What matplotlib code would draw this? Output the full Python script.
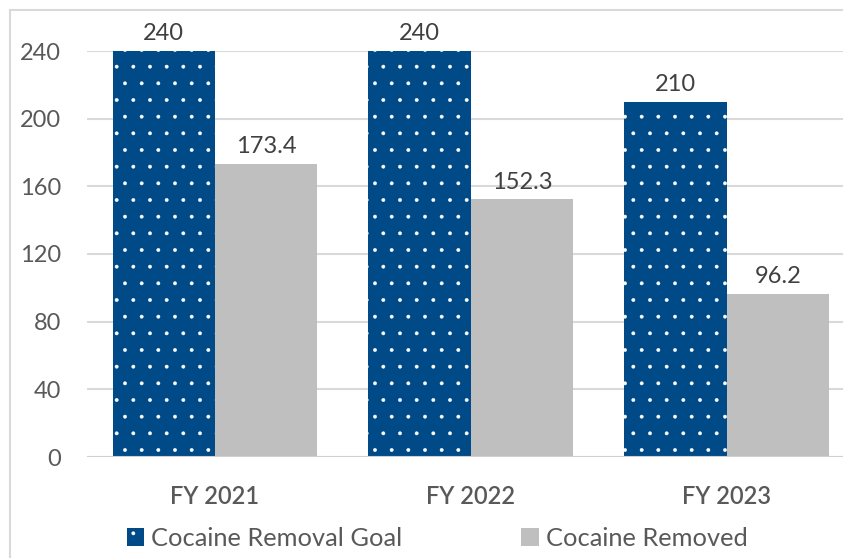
import matplotlib
matplotlib.use('Agg')
import matplotlib.pyplot as plt
from matplotlib.patches import Rectangle, Patch
import numpy as np

# --- datos ---
years = ['FY 2021', 'FY 2022', 'FY 2023']
goal = [240, 240, 210]
removed = [173.4, 152.3, 96.2]
series_names = ['Cocaine Removal Goal', 'Cocaine Removed']
yticks = [0, 40, 80, 120, 160, 200, 240]

BLUE = '#004B87'
GRAY = '#BFBFBF'
TXT = '#595959'

plt.rcParams['font.family'] = ['Lato', 'DejaVu Sans']
plt.rcParams['hatch.color'] = 'white'
plt.rcParams['hatch.linewidth'] = 0.3

fig = plt.figure(figsize=(8.43, 5.58), dpi=100)
ax = fig.add_axes([87 / 843, 101 / 558, 767.5 / 843, 406 / 558])

x = np.arange(len(years))
w = 0.4
b1 = ax.bar(x - w / 2, goal, w, color=BLUE, hatch='.', edgecolor='white', linewidth=0, zorder=3)
b2 = ax.bar(x + w / 2, removed, w, color=GRAY, linewidth=0, zorder=3)

for bars, vals in ((b1, goal), (b2, removed)):
    for r, v in zip(bars, vals):
        ax.text(r.get_x() + r.get_width() / 2, v + 4, f'{v:g}', ha='center', va='bottom',
                fontsize=17, color='#404040')

ax.set_xlim(-0.5, 2.5)
ax.set_ylim(0, 240)
ax.set_yticks(yticks)
ax.set_xticks(x)
ax.set_xticklabels(years)
ax.tick_params(axis='both', length=0, labelsize=17, colors=TXT)
ax.tick_params(axis='x', pad=20)
ax.tick_params(axis='y', pad=18.5)
for lbl in ax.get_xticklabels():
    lbl.set_fontweight('semibold')
ax.grid(axis='y', color='#D9D9D9', linewidth=1.5, zorder=0)
for s in ax.spines.values():
    s.set_visible(False)
ax.axhline(0, color='#D0D0D0', linewidth=1.5, zorder=4)

handles = [Patch(facecolor=BLUE, hatch='.', edgecolor='white', linewidth=0),
           Patch(facecolor=GRAY, linewidth=0)]
leg = fig.legend(handles, series_names, loc='center', bbox_to_anchor=(437 / 843, 1 - 538 / 558),
                 ncol=2, frameon=False, fontsize=18.3, handlelength=0.7, handleheight=0.7,
                 handletextpad=0.25, columnspacing=4.7)
for t in leg.get_texts():
    t.set_color(TXT)

fig.patches.append(Rectangle((10 / 843, -0.1), 1.2, 1 - 10 / 558 + 0.1, transform=fig.transFigure,
                             fill=False, edgecolor='#D9D9D9', linewidth=1.5, zorder=0))

fig.savefig('out.png', dpi=100)
